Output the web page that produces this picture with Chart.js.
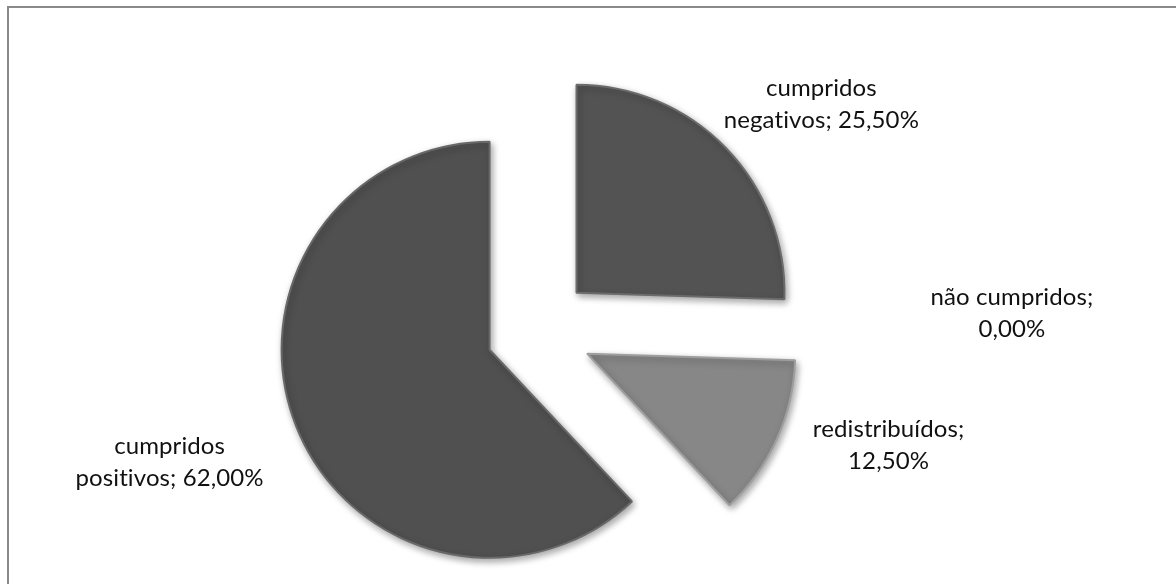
<!DOCTYPE html>
<html>
<head>
<meta charset="utf-8">
<script src="https://cdn.jsdelivr.net/npm/chart.js@4"></script>
<style>
    html, body { margin: 0; padding: 0; background: #fff; }
    body { width: 1176px; height: 584px; position: relative; overflow: hidden; }
    .frame {
        position: absolute; left: 7px; top: 6px; width: 1300px; height: 700px;
        border-top: 2px solid #8a8a8a; border-left: 2px solid #8a8a8a;
    }
    #pieChart { position: absolute; left: 0; top: 0; }
</style>
</head>
<body>
<div class="frame"></div>
<canvas id="pieChart" width="1176" height="584"></canvas>
<script>
// Chart data (clockwise from 12 o'clock)
const categories = ['cumpridos negativos', 'não cumpridos', 'redistribuídos', 'cumpridos positivos'];
const percentages = [25.5, 0, 12.5, 62.0];

// Slice styling
const sliceColors = ['#535353', '#535353', '#878787', '#505050'];
const sliceBorders = ['#6b6b6b', '#6b6b6b', '#9e9e9e', '#686868'];
const explode = [55, 0, 55, 51];           // px each slice is pulled out along its bisector
const labelNudge = [[135, -74], [267, -17], [162, 36], [-174, 62]];

const formatPercent = (num) => num.toFixed(2).replace('.', ',') + '%';

// Pull slices out from the centre
const explodePlugin = {
    id: 'explode',
    afterDatasetsUpdate(chart) {
        const arcs = chart.getDatasetMeta(0).data;
        arcs.forEach((arc, i) => {
            const mid = (arc.startAngle + arc.endAngle) / 2;
            arc.x += Math.cos(mid) * explode[i];
            arc.y += Math.sin(mid) * explode[i];
        });
    }
};

// Soft drop shadow under the slices
const shadowPlugin = {
    id: 'sliceShadow',
    beforeDatasetsDraw(chart) {
        const ctx = chart.ctx;
        ctx.save();
        ctx.shadowColor = 'rgba(0, 0, 0, 0.35)';
        ctx.shadowBlur = 7;
        ctx.shadowOffsetX = 2;
        ctx.shadowOffsetY = 3;
    },
    afterDatasetsDraw(chart) {
        chart.ctx.restore();
    }
};

// Data labels "category; value" wrapped like the original
const labelPlugin = {
    id: 'sliceLabels',
    afterDraw(chart) {
        const ctx = chart.ctx;
        const arcs = chart.getDatasetMeta(0).data;
        ctx.save();
        ctx.font = '24px Lato';
        if ('letterSpacing' in ctx) ctx.letterSpacing = '0.1px'; // avoids the "ti" ligature
        ctx.fillStyle = '#111';
        ctx.textAlign = 'center';
        ctx.textBaseline = 'alphabetic';
        const lineHeight = 32;
        arcs.forEach((arc, i) => {
            const mid = (arc.startAngle + arc.endAngle) / 2;
            const cx = arc.x - Math.cos(mid) * explode[i];
            const cy = arc.y - Math.sin(mid) * explode[i];
            const ax = cx + Math.cos(mid) * arc.outerRadius + labelNudge[i][0];
            const ay = cy + Math.sin(mid) * arc.outerRadius + labelNudge[i][1];

            const words = (categories[i] + '; ' + formatPercent(percentages[i])).split(' ');
            const lines = [];
            let line = '';
            words.forEach(w => {
                const test = line ? line + ' ' + w : w;
                if (line && ctx.measureText(test).width > 205) {
                    lines.push(line);
                    line = w;
                } else {
                    line = test;
                }
            });
            lines.push(line);

            lines.forEach((l, k) => {
                ctx.fillText(l, ax, ay + (k - (lines.length - 1) / 2) * lineHeight);
            });
        });
        ctx.restore();
    }
};

document.addEventListener('DOMContentLoaded', function() {
    const ctx = document.getElementById('pieChart');
    new Chart(ctx, {
        type: 'pie',
        data: {
            labels: categories,
            datasets: [{
                data: percentages,
                backgroundColor: sliceColors,
                borderColor: sliceBorders,
                borderWidth: 2
            }]
        },
        options: {
            responsive: false,
            animation: false,
            radius: 208,
            layout: {
                padding: { left: 0, right: 102, top: 78, bottom: 0 }
            },
            plugins: {
                legend: { display: false },
                tooltip: { enabled: false }
            }
        },
        plugins: [explodePlugin, shadowPlugin, labelPlugin]
    });
});
</script>
</body>
</html>
